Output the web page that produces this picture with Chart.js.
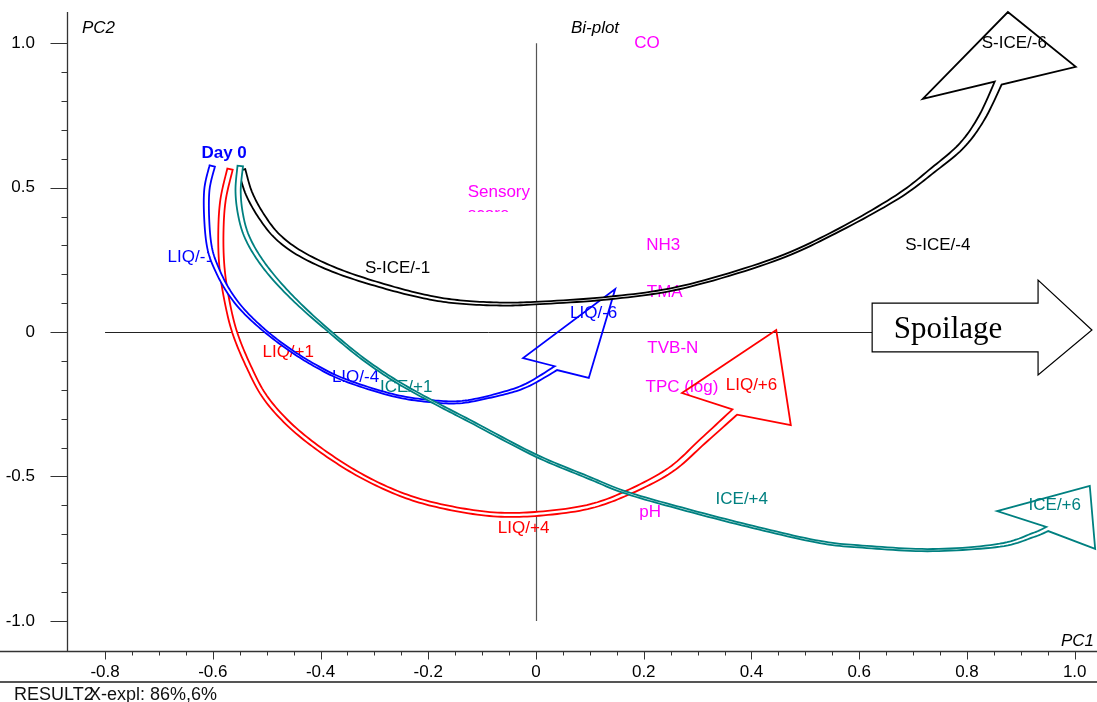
<!DOCTYPE html>
<html>
<head>
    <meta charset="utf-8">
    <script src="https://cdn.jsdelivr.net/npm/chart.js@4.4.0/dist/chart.umd.min.js"></script>
    <title>Bi-plot</title>
    <style>
        body { margin: 0; background: #fff; }
    </style>
</head>
<body>
<canvas id="myChart" width="1097" height="702"></canvas>

<script>
    // axis ranges (PC1 / PC2)
    const xMin = -0.8697, xMax = 1.0414;
    const yMin = -1.106, yMax = 1.108;

    const xTickValues = [-0.8, -0.6, -0.4, -0.2, 0, 0.2, 0.4, 0.6, 0.8, 1.0];
    const xTickLabels = ['-0.8', '-0.6', '-0.4', '-0.2', '0', '0.2', '0.4', '0.6', '0.8', '1.0'];
    const yTickValues = [-1.0, -0.5, 0, 0.5, 1.0];
    const yTickLabels = ['-1.0', '-0.5', '0', '0.5', '1.0'];

    // trajectories (scores through storage)
    const sIceX = [-0.546, -0.533, -0.510, -0.479, -0.433, -0.364, -0.277, -0.202, -0.141, -0.067, -0.002, 0.137, 0.273, 0.440, 0.555, 0.670, 0.737, 0.791, 0.828, 0.858];
    const sIceY = [0.561, 0.481, 0.402, 0.329, 0.267, 0.208, 0.156, 0.121, 0.104, 0.097, 0.100, 0.118, 0.156, 0.249, 0.346, 0.467, 0.561, 0.647, 0.744, 0.862];
    const sIceHeadX = [0.718, 0.876, 1.002];
    const sIceHeadY = [0.807, 1.108, 0.918];

    const liqMinusX = [-0.601, -0.611, -0.611, -0.605, -0.590, -0.570, -0.544, -0.507, -0.462, -0.412, -0.355, -0.267, -0.197, -0.137, -0.067, -0.017, 0.037];
    const liqMinusY = [0.575, 0.492, 0.381, 0.284, 0.208, 0.139, 0.076, 0.010, -0.055, -0.114, -0.166, -0.218, -0.239, -0.242, -0.215, -0.184, -0.125];
    const liqMinusHeadX = [-0.024, 0.147, 0.098];
    const liqMinusHeadY = [-0.090, 0.149, -0.159];

    const liqPlusX = [-0.568, -0.581, -0.585, -0.583, -0.574, -0.559, -0.533, -0.503, -0.457, -0.397, -0.327, -0.252, -0.178, -0.086, -0.002, 0.095, 0.169, 0.249, 0.310, 0.369];
    const liqPlusY = [0.564, 0.457, 0.343, 0.225, 0.111, -0.003, -0.121, -0.225, -0.322, -0.412, -0.495, -0.561, -0.602, -0.630, -0.630, -0.606, -0.557, -0.478, -0.377, -0.277];
    const liqPlusHeadX = [0.271, 0.446, 0.473];
    const liqPlusHeadY = [-0.211, 0.007, -0.322];

    const icePlusX = [-0.549, -0.553, -0.549, -0.538, -0.516, -0.483, -0.438, -0.382, -0.323, -0.260, -0.191, -0.123, -0.002, 0.095, 0.169, 0.280, 0.403, 0.527, 0.614, 0.737, 0.861, 0.923, 0.949];
    const icePlusY = [0.575, 0.492, 0.412, 0.336, 0.260, 0.180, 0.093, 0.000, -0.090, -0.170, -0.242, -0.308, -0.426, -0.502, -0.557, -0.616, -0.675, -0.727, -0.744, -0.755, -0.738, -0.703, -0.682];
    const icePlusHeadX = [0.856, 1.028, 1.038];
    const icePlusHeadY = [-0.620, -0.533, -0.751];

    // sample labels
    const sampleNames = ['Day 0', 'LIQ/-1', 'LIQ/-4', 'LIQ/-6', 'S-ICE/-1', 'S-ICE/-4', 'S-ICE/-6', 'LIQ/+1', 'LIQ/+4', 'LIQ/+6', 'ICE/+1', 'ICE/+4', 'ICE/+6'];
    const sampleX = [-0.579, -0.640, -0.335, 0.107, -0.257, 0.746, 0.888, -0.460, -0.023, 0.400, -0.241, 0.382, 0.963];
    const sampleY = [0.620, 0.260, -0.156, 0.066, 0.222, 0.301, 1.000, -0.069, -0.679, -0.184, -0.190, -0.578, -0.599];

    // variable loadings (labels only)
    const varNames = ['CO', 'Sensory', 'NH3', 'TMA', 'TVB-N', 'TPC (log)', 'pH'];
    const varX = [0.206, -0.069, 0.236, 0.239, 0.254, 0.271, 0.212];
    const varY = [1.001, 0.485, 0.301, 0.139, -0.055, -0.190, -0.623];

    // spoilage direction arrow
    const spoilageX = [0.624, 0.932, 0.932, 1.032, 0.932, 0.932, 0.624];
    const spoilageY = [0.100, 0.100, 0.180, 0.007, -0.149, -0.069, -0.069];

    const FONT = "'Liberation Sans', Arial, sans-serif";
    const BLUE = '#0000ff', RED = '#ff0000', TEAL = '#008080', MAGENTA = '#ff00ff';
    const EDGE = 1.8;

    function pts(xs, ys) {
        return xs.map(function (x, i) { return { x: x, y: ys[i] }; });
    }

    // arrows: drawing order red, blue, black, teal
    // widths = spacing between the two outlines along the path (fraction of length, px)
    const arrows = [
        { label: 'LIQ +', x: liqPlusX, y: liqPlusY, hx: liqPlusHeadX, hy: liqPlusHeadY, color: RED, widths: [[0, 5.5], [0.5, 3.8], [0.8, 4.2], [1, 7]] },
        { label: 'LIQ -', x: liqMinusX, y: liqMinusY, hx: liqMinusHeadX, hy: liqMinusHeadY, color: BLUE, widths: [[0, 5.5], [0.2, 4.5], [0.38, 2.2], [0.85, 2.2], [1, 4.5]] },
        { label: 'S-ICE', x: sIceX, y: sIceY, hx: sIceHeadX, hy: sIceHeadY, color: '#000000', widths: [[0, 7], [0.2, 4.5], [0.4, 2.5], [0.75, 2.8], [1, 7.5]] },
        { label: 'ICE +', x: icePlusX, y: icePlusY, hx: icePlusHeadX, hy: icePlusHeadY, color: TEAL, widths: [[0, 5.5], [0.12, 4.2], [0.2, 2.2], [0.92, 2.2], [1, 4.5]] }
    ];

    function smooth(p, n) {
        const out = [];
        for (let i = 0; i < p.length - 1; i++) {
            const p0 = p[Math.max(i - 1, 0)], p1 = p[i], p2 = p[i + 1], p3 = p[Math.min(i + 2, p.length - 1)];
            for (let k = 0; k < n; k++) {
                const t = k / n, t2 = t * t, t3 = t2 * t;
                out.push({
                    x: 0.5 * (2 * p1.x + (-p0.x + p2.x) * t + (2 * p0.x - 5 * p1.x + 4 * p2.x - p3.x) * t2 + (-p0.x + 3 * p1.x - 3 * p2.x + p3.x) * t3),
                    y: 0.5 * (2 * p1.y + (-p0.y + p2.y) * t + (2 * p0.y - 5 * p1.y + 4 * p2.y - p3.y) * t2 + (-p0.y + 3 * p1.y - 3 * p2.y + p3.y) * t3)
                });
            }
        }
        out.push({ x: p[p.length - 1].x, y: p[p.length - 1].y });
        return out;
    }

    function widthAt(prof, t) {
        for (let i = 0; i < prof.length - 1; i++) {
            if (t <= prof[i + 1][0]) {
                const f = (t - prof[i][0]) / (prof[i + 1][0] - prof[i][0]);
                return prof[i][1] + f * (prof[i + 1][1] - prof[i][1]);
            }
        }
        return prof[prof.length - 1][1];
    }

    function drawRibbon(ctx, chart, dsIndex, a) {
        const xs = chart.scales.x, ys = chart.scales.y;
        const meta = chart.getDatasetMeta(dsIndex);
        const raw = meta.data.map(function (el) { return { x: el.x, y: el.y }; });
        const p = smooth(raw, 12);
        const len = [0];
        for (let i = 1; i < p.length; i++) {
            len.push(len[i - 1] + Math.hypot(p[i].x - p[i - 1].x, p[i].y - p[i - 1].y));
        }
        const total = len[len.length - 1];
        const L = [], R = [];
        for (let i = 0; i < p.length; i++) {
            const a0 = p[Math.max(i - 2, 0)], a1 = p[Math.min(i + 2, p.length - 1)];
            let tx = a1.x - a0.x, ty = a1.y - a0.y;
            const d = Math.hypot(tx, ty) || 1;
            tx /= d; ty /= d;
            const w = widthAt(a.widths, len[i] / total) / 2;
            L.push({ x: p[i].x - ty * w, y: p[i].y + tx * w });
            R.push({ x: p[i].x + ty * w, y: p[i].y - tx * w });
        }
        // white interior
        ctx.beginPath();
        ctx.moveTo(L[0].x, L[0].y);
        L.forEach(function (q) { ctx.lineTo(q.x, q.y); });
        for (let i = R.length - 1; i >= 0; i--) ctx.lineTo(R[i].x, R[i].y);
        ctx.closePath();
        ctx.fillStyle = '#ffffff';
        ctx.fill();

        // head corners in pixels
        const hp = a.hx.map(function (v, i) { return { x: xs.getPixelForValue(v), y: ys.getPixelForValue(a.hy[i]) }; });
        const lEnd = L[L.length - 1], rEnd = R[R.length - 1];
        let cL = hp[0], cR = hp[2];
        if (Math.hypot(hp[0].x - lEnd.x, hp[0].y - lEnd.y) > Math.hypot(hp[2].x - lEnd.x, hp[2].y - lEnd.y)) {
            cL = hp[2]; cR = hp[0];
        }
        ctx.beginPath();
        ctx.moveTo(rEnd.x, rEnd.y);
        for (let i = R.length - 1; i >= 0; i--) ctx.lineTo(R[i].x, R[i].y);
        L.forEach(function (q) { ctx.lineTo(q.x, q.y); });
        ctx.lineTo(cL.x, cL.y);
        ctx.lineTo(hp[1].x, hp[1].y);
        ctx.lineTo(cR.x, cR.y);
        ctx.closePath();
        ctx.strokeStyle = a.color;
        ctx.lineWidth = EDGE;
        ctx.lineJoin = 'miter';
        ctx.stroke();
    }

    function sampleColor(name) {
        if (name === 'Day 0' || name.indexOf('LIQ/-') === 0) return BLUE;
        if (name.indexOf('S-ICE') === 0) return '#000000';
        if (name.indexOf('LIQ/+') === 0) return RED;
        return TEAL;
    }

    const biplotPlugin = {
        id: 'biplot',
        beforeDatasetsDraw: function (chart) {
            const ctx = chart.ctx, xs = chart.scales.x, ys = chart.scales.y, area = chart.chartArea;
            const W = chart.width;
            ctx.save();

            // axes frame
            ctx.strokeStyle = '#333';
            ctx.lineWidth = 1.3;
            ctx.beginPath();
            ctx.moveTo(area.left, area.top);
            ctx.lineTo(area.left, area.bottom + 0.5);
            ctx.moveTo(0, area.bottom);
            ctx.lineTo(W, area.bottom);
            ctx.stroke();

            // y ticks
            ctx.lineWidth = 1;
            ctx.beginPath();
            for (let v = -10; v <= 10; v++) {
                const py = Math.round(ys.getPixelForValue(v / 10)) + 0.5;
                const len = (v % 5 === 0) ? 17 : 6;
                ctx.moveTo(area.left - len, py);
                ctx.lineTo(area.left, py);
            }
            // x ticks
            for (let v = -16; v <= 20; v++) {
                const px = Math.round(xs.getPixelForValue(v / 20)) + 0.5;
                const len = (v % 4 === 0) ? 8 : 4;
                ctx.moveTo(px, area.bottom);
                ctx.lineTo(px, area.bottom + len);
            }
            ctx.stroke();

            ctx.fillStyle = '#000';
            ctx.font = '17px ' + FONT;
            ctx.textBaseline = 'middle';
            ctx.textAlign = 'right';
            yTickValues.forEach(function (v, i) {
                ctx.fillText(yTickLabels[i], 35, ys.getPixelForValue(v));
            });
            ctx.textAlign = 'center';
            xTickValues.forEach(function (v, i) {
                ctx.fillText(xTickLabels[i], xs.getPixelForValue(v), area.bottom + 21);
            });

            // bottom rule and result caption
            ctx.strokeStyle = '#555';
            ctx.lineWidth = 2;
            ctx.beginPath();
            ctx.moveTo(0, 682);
            ctx.lineTo(W, 682);
            ctx.stroke();
            ctx.font = '18px ' + FONT;
            ctx.textAlign = 'left';
            ctx.fillStyle = '#111';
            ctx.fillText('RESULT2', 14, 695);
            ctx.fillText('X-expl: 86%,6%', 89, 695);

            // axis titles
            ctx.font = 'italic 17px ' + FONT;
            ctx.fillStyle = '#000';
            ctx.textAlign = 'left';
            ctx.fillText('PC2', 82, 28);
            ctx.textAlign = 'right';
            ctx.fillText('PC1', 1094, 641);
            ctx.textAlign = 'center';
            ctx.fillText('Bi-plot', 595, 28);

            // zero lines
            ctx.lineWidth = 1.2;
            ctx.strokeStyle = '#555';
            ctx.beginPath();
            const x0 = Math.round(xs.getPixelForValue(0)) + 0.5;
            ctx.moveTo(x0, ys.getPixelForValue(1.0));
            ctx.lineTo(x0, ys.getPixelForValue(-1.0));
            ctx.stroke();
            ctx.strokeStyle = '#222';
            ctx.lineWidth = 1;
            ctx.beginPath();
            const y0 = Math.round(ys.getPixelForValue(0)) + 0.5;
            ctx.moveTo(xs.getPixelForValue(-0.8), y0);
            ctx.lineTo(xs.getPixelForValue(spoilageX[0]), y0);
            ctx.stroke();

            // variable labels
            ctx.font = '17px ' + FONT;
            ctx.fillStyle = MAGENTA;
            ctx.textAlign = 'center';
            varNames.forEach(function (n, i) {
                const px = xs.getPixelForValue(varX[i]), py = ys.getPixelForValue(varY[i]);
                ctx.fillText(n, px, py);
                if (n === 'Sensory') {
                    // second line "score" is cut off by the label box
                    ctx.save();
                    ctx.beginPath();
                    ctx.rect(0, 0, W, py + 20);
                    ctx.clip();
                    ctx.textAlign = 'left';
                    ctx.fillText('score', px - 31, py + 22);
                    ctx.restore();
                }
            });

            // sample labels
            sampleNames.forEach(function (n, i) {
                ctx.font = (n === 'Day 0' ? 'bold ' : '') + '17px ' + FONT;
                ctx.fillStyle = sampleColor(n);
                ctx.fillText(n, xs.getPixelForValue(sampleX[i]), ys.getPixelForValue(sampleY[i]));
            });
            ctx.restore();
        },
        afterDatasetsDraw: function (chart) {
            const ctx = chart.ctx, xs = chart.scales.x, ys = chart.scales.y;
            ctx.save();

            // spoilage block arrow
            ctx.beginPath();
            spoilageX.forEach(function (v, i) {
                const px = xs.getPixelForValue(v), py = ys.getPixelForValue(spoilageY[i]);
                if (i === 0) ctx.moveTo(px, py); else ctx.lineTo(px, py);
            });
            ctx.closePath();
            ctx.fillStyle = '#fff';
            ctx.fill();
            ctx.strokeStyle = '#000';
            ctx.lineWidth = 1.2;
            ctx.stroke();
            ctx.fillStyle = '#000';
            ctx.font = "31px 'Liberation Serif', 'Times New Roman', serif";
            ctx.textAlign = 'center';
            ctx.textBaseline = 'middle';
            ctx.fillText('Spoilage', xs.getPixelForValue(0.765), ys.getPixelForValue(0.007));

            arrows.forEach(function (a, i) { drawRibbon(ctx, chart, i, a); });
            ctx.restore();
        }
    };

    const data = {
        datasets: arrows.map(function (a) {
            return {
                label: a.label,
                data: pts(a.x, a.y),
                showLine: false,
                pointRadius: 0,
                borderColor: a.color,
                backgroundColor: a.color
            };
        })
    };

    const config = {
        type: 'scatter',
        data: data,
        options: {
            responsive: false,
            animation: false,
            events: [],
            layout: { padding: { left: 67.5, top: 12, right: 0, bottom: 50.5 } },
            plugins: {
                legend: { display: false },
                tooltip: { enabled: false }
            },
            scales: {
                x: { type: 'linear', min: xMin, max: xMax, display: false },
                y: { type: 'linear', min: yMin, max: yMax, display: false }
            }
        },
        plugins: [biplotPlugin]
    };

    var myChart = new Chart(document.getElementById('myChart'), config);
</script>
</body>
</html>
